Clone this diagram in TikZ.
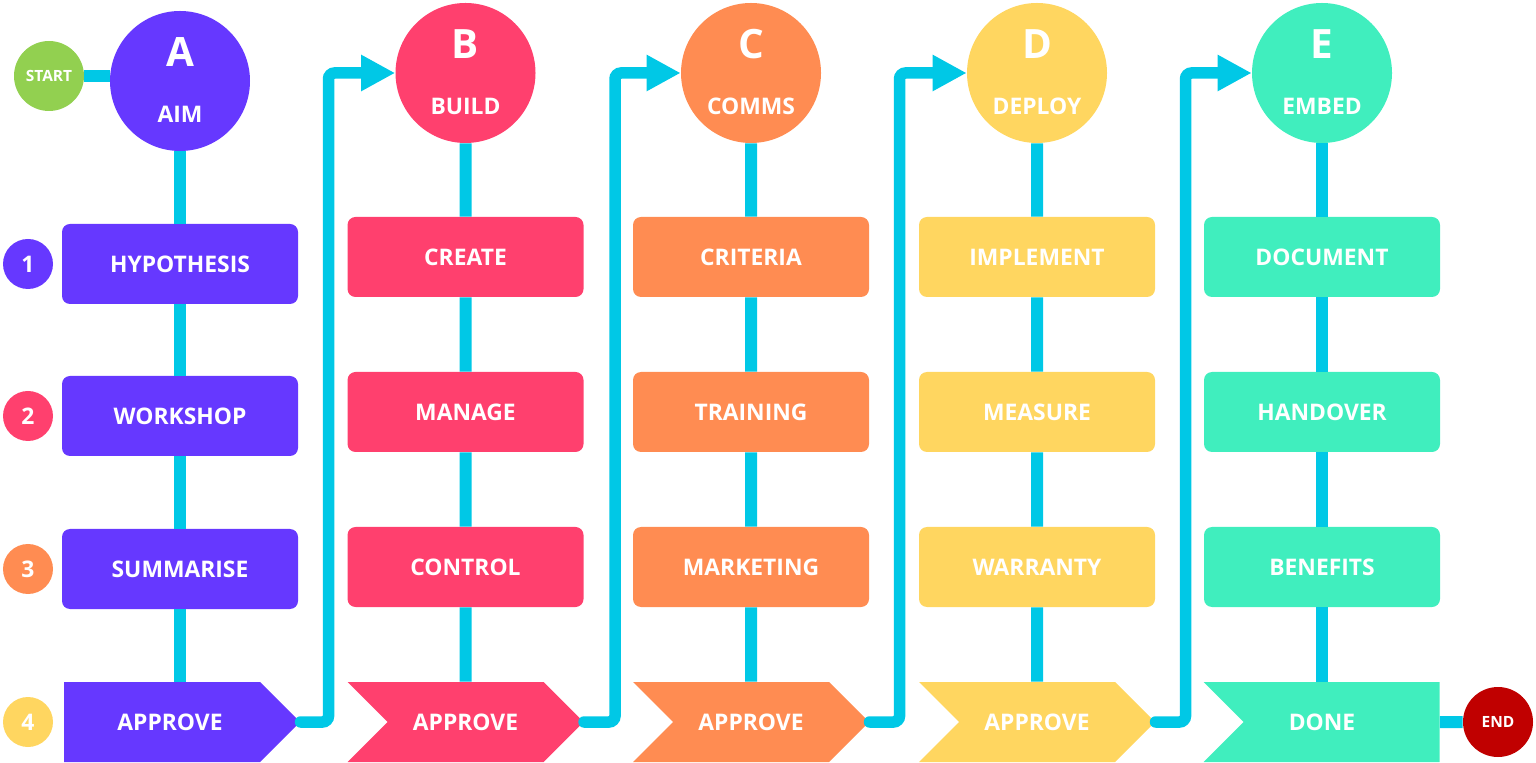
\documentclass[tikz,border=0pt]{standalone}
\usepackage{fontspec}
\setmainfont{Open Sans}
\usepackage{xcolor}
\usepackage{tikz}
\usetikzlibrary{arrows.meta,positioning,calc,shapes.symbols}
\definecolor{aimpurple}{RGB}{102,56,255}
\definecolor{buildpink}{RGB}{255,64,110}
\definecolor{commsorange}{RGB}{255,140,82}
\definecolor{deployyellow}{RGB}{255,214,96}
\definecolor{embedteal}{RGB}{64,238,190}
\definecolor{linkcyan}{RGB}{0,200,230}
\definecolor{startgreen}{RGB}{146,208,80}
\definecolor{endred}{RGB}{192,0,0}

\begin{document}
\begin{tikzpicture}[
  font=\bfseries,
  >={Triangle[length=0.68cm,width=0.68cm]},
  every node/.style={align=center, text=white},
  txt/.style     = {font=\fontsize{13}{15}\selectfont\bfseries},
  stagend/.style = {circle, minimum size=2.80cm, inner sep=0pt},
  letterlbl/.style = {font=\fontsize{23}{24}\selectfont\bfseries},
  boxnd/.style   = {txt, rectangle, rounded corners=0.16cm, inner sep=0pt,
                    minimum width=4.72cm, minimum height=1.60cm},
  apnd/.style    = {txt, signal, signal pointer angle=90, inner sep=0pt,
                    minimum width=4.72cm, minimum height=1.60cm},
  numnd/.style   = {txt, circle, minimum size=1.00cm, inner sep=0pt},
  termnd/.style  = {circle, minimum size=1.40cm, inner sep=0pt,
                    font=\fontsize{8.8}{10}\selectfont\bfseries},
  vlink/.style   = {draw=linkcyan, line width=0.24cm},
  hlink/.style   = {draw=linkcyan, line width=0.23cm, line cap=round,
                    rounded corners=0.12cm, ->}
]
\useasboundingbox (0,0) rectangle (30.72,15.24);

%% ===== row numbers =====
\node[numnd, fill=aimpurple]    (n1) at (0.56, 9.96) {1};
\node[numnd, fill=buildpink]    (n2) at (0.56, 6.92) {2};
\node[numnd, fill=commsorange]  (n3) at (0.56, 3.86) {3};
\node[numnd, fill=deployyellow] (n4) at (0.56, 0.80) {4};

%% ===== A: Aim =====
\node[termnd, fill=startgreen] (start) at (0.98, 13.72) {START};
\node[stagend, fill=aimpurple] (A) at (3.60, 13.62) {};
\node[letterlbl] at ([yshift=0.57cm]A.center) {A};
\node[txt] at ([yshift=-0.66cm]A.center) {AIM};
\node[boxnd, fill=aimpurple] (a1) at (3.60, 9.96) {HYPOTHESIS};
\node[boxnd, fill=aimpurple] (a2) at (3.60, 6.92) {WORKSHOP};
\node[boxnd, fill=aimpurple] (a3) at (3.60, 3.86) {SUMMARISE};
\node[apnd, fill=aimpurple, signal to=east] (apA) at (3.24, 0.80)
  {\hspace*{0.32cm}APPROVE};

\draw[vlink] (start.east) -- (start.east -| A.west);
\draw[vlink] (A) -- (a1) -- (a2) -- (a3) -- (a3 |- apA.north);

%% ===== B: Build =====
\node[stagend, fill=buildpink] (B) at (9.31, 13.78) {};
\node[letterlbl] at ([yshift=0.57cm]B.center) {B};
\node[txt] at ([yshift=-0.66cm]B.center) {BUILD};
\node[boxnd, fill=buildpink] (b1) at (9.31, 10.10) {CREATE};
\node[boxnd, fill=buildpink] (b2) at (9.31, 7.00) {MANAGE};
\node[boxnd, fill=buildpink] (b3) at (9.31, 3.90) {CONTROL};
\node[apnd, fill=buildpink, signal from=west, signal to=east] (apB) at (9.31, 0.80)
  {APPROVE};

\draw[vlink] (B) -- (b1) -- (b2) -- (b3) -- (apB);

%% ===== C: Comms =====
\node[stagend, fill=commsorange] (C) at (15.02, 13.78) {};
\node[letterlbl] at ([yshift=0.57cm]C.center) {C};
\node[txt] at ([yshift=-0.66cm]C.center) {COMMS};
\node[boxnd, fill=commsorange] (c1) at (15.02, 10.10) {CRITERIA};
\node[boxnd, fill=commsorange] (c2) at (15.02, 7.00) {TRAINING};
\node[boxnd, fill=commsorange] (c3) at (15.02, 3.90) {MARKETING};
\node[apnd, fill=commsorange, signal from=west, signal to=east] (apC) at (15.02, 0.80)
  {APPROVE};

\draw[vlink] (C) -- (c1) -- (c2) -- (c3) -- (apC);

%% ===== D: Deploy =====
\node[stagend, fill=deployyellow] (D) at (20.74, 13.78) {};
\node[letterlbl] at ([yshift=0.57cm]D.center) {D};
\node[txt] at ([yshift=-0.66cm]D.center) {DEPLOY};
\node[boxnd, fill=deployyellow] (d1) at (20.74, 10.10) {IMPLEMENT};
\node[boxnd, fill=deployyellow] (d2) at (20.74, 7.00) {MEASURE};
\node[boxnd, fill=deployyellow] (d3) at (20.74, 3.90) {WARRANTY};
\node[apnd, fill=deployyellow, signal from=west, signal to=east] (apD) at (20.74, 0.80)
  {APPROVE};

\draw[vlink] (D) -- (d1) -- (d2) -- (d3) -- (apD);

%% ===== E: Embed =====
\node[stagend, fill=embedteal] (E) at (26.44, 13.78) {};
\node[letterlbl] at ([yshift=0.57cm]E.center) {E};
\node[txt] at ([yshift=-0.66cm]E.center) {EMBED};
\node[boxnd, fill=embedteal] (e1) at (26.44, 10.10) {DOCUMENT};
\node[boxnd, fill=embedteal] (e2) at (26.44, 7.00) {HANDOVER};
\node[boxnd, fill=embedteal] (e3) at (26.44, 3.90) {BENEFITS};
\node[apnd, fill=embedteal, signal from=west, signal to=nowhere] (done) at (26.83, 0.80)
  {DONE\hspace*{0.78cm}};
\node[termnd, fill=endred] (end) at (29.96, 0.80) {END};

\draw[vlink] (E) -- (e1) -- (e2) -- (e3) -- (e3 |- done.north);
\draw[vlink] (done) -- (end);

%% ===== stage hand-offs =====
\draw[hlink] (apA.east) -- ++(0.56,0) |- (B.west);
\draw[hlink] (apB.east) -- ++(0.62,0) |- (C.west);
\draw[hlink] (apC.east) -- ++(0.60,0) |- (D.west);
\draw[hlink] (apD.east) -- ++(0.60,0) |- (E.west);

\end{tikzpicture}
\end{document}
